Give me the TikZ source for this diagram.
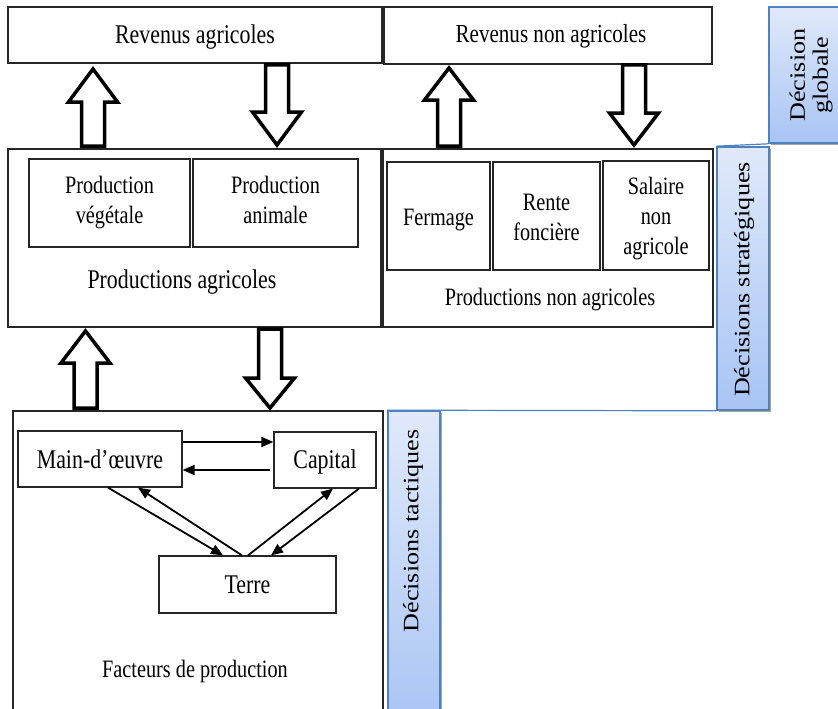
\documentclass[tikz,border=0pt]{standalone}
\usepackage{fontspec}
\setmainfont[FakeStretch=0.81]{Liberation Serif}
\newfontfamily\sidefont[FakeStretch=1.19]{Liberation Serif}
\usetikzlibrary{arrows.meta,shadows,calc}
\definecolor{sideblue}{HTML}{4F81BD}
\definecolor{sidetop}{HTML}{E0E9FA}
\definecolor{sidebot}{HTML}{A8C4F4}

% hollow block arrow: centre x, base y, tip y, y of the head base
\newcommand\blockarrow[4]{%
  \draw[fatarrow] (#1-11.5,#2) -- (#1-11.5,#4) -- (#1-24.5,#4) -- (#1,#3)
    -- (#1+24.5,#4) -- (#1+11.5,#4) -- (#1+11.5,#2) -- cycle;}

\begin{document}
\begin{tikzpicture}[x=1pt,y=-1pt,
  box/.style={draw=black!85, line width=1.2pt, fill=white, inner sep=0pt},
  lbl/.style={inner sep=0pt, align=center, font=\fontsize{25}{30}\selectfont},
  biglbl/.style={inner sep=0pt, align=center, font=\fontsize{27}{30}\selectfont},
  side/.style={draw=sideblue, line width=1.6pt, top color=sidetop, bottom color=sidebot,
    inner sep=0pt,
    drop shadow={shadow xshift=1.5pt, shadow yshift=-2pt, opacity=.35, fill=black}},
  sidelbl/.style={inner sep=0pt, rotate=90, align=center,
    font=\sidefont\fontsize{22}{23}\selectfont},
  fatarrow/.style={draw=black, line width=3.5pt, fill=white, line join=miter},
  link/.style={line width=1.8pt, -{Triangle[length=12pt,width=10pt]}},
  levellink/.style={draw=sideblue, line width=1.2pt}]
\useasboundingbox (0,0) rectangle (838,709);
\clip (0,0) rectangle (838,709);

% decision levels
\node[side, minimum width=81pt, minimum height=136pt] (dg) at (809.5,75) {};
\node[sidelbl] (dgt) at (811,75) {Décision\\globale};
\node[side, minimum width=52pt, minimum height=263pt] (ds) at (743,278.5) {};
\node[sidelbl] (dst) at (744,279.5) {Décisions stratégiques};
\node[side, minimum width=52pt, minimum height=320pt] (dt) at (414,571) {};
\node[sidelbl] (dtt) at (413,531) {Décisions tactiques};
\draw[levellink] (dt.north west) -- (ds.south west);
\draw[levellink] (ds.north west) -- (dg.south west);

% incomes
\node[box, minimum width=374pt, minimum height=56pt] (ra) at (195,35) {};
\node[biglbl, anchor=base] (rat) at (195,44) {Revenus agricoles};
\node[box, minimum width=328pt, minimum height=57pt] (rna) at (548,35.5) {};
\node[lbl, anchor=base, font=\fontsize{26}{30}\selectfont] (rnat) at (551,43) {Revenus non agricoles};

% productions
\node[box, minimum width=373pt, minimum height=178pt] (pa) at (194.5,238) {};
\node[box, minimum width=161pt, minimum height=88pt] (pv) at (109.5,203) {};
\node[lbl] (pvt) at (109.5,202) {\strut Production\\végétale\strut};
\node[box, minimum width=165pt, minimum height=88pt] (pan) at (275.5,203) {};
\node[lbl] (pant) at (275.5,202) {\strut Production\\animale\strut};
\node[biglbl, anchor=base] (pat) at (182,288) {Productions agricoles};

\node[box, minimum width=330pt, minimum height=178pt] (pna) at (548,238) {};
\node[box, minimum width=103pt, minimum height=108pt] (fe) at (438.5,216) {};
\node[lbl, anchor=base] (fet) at (438.5,225) {Fermage};
\node[box, minimum width=107pt, minimum height=108pt] (rf) at (546.5,216) {};
\node[lbl] (rft) at (546.5,219) {\strut Rente\\foncière\strut};
\node[box, minimum width=106pt, minimum height=109pt] (sna) at (656,215.5) {};
\node[lbl] (snat) at (656,218) {\strut Salaire\\non\\agricole\strut};
\node[lbl, anchor=base] (pnat) at (550,305) {Productions non agricoles};

% factors of production
\node[box, minimum width=370pt, minimum height=320pt] (fp) at (198,571) {};
\node[box, minimum width=164pt, minimum height=56pt] (mo) at (100,459) {};
\node[biglbl, anchor=base] (mot) at (100,468) {Main-d’œuvre};
\node[box, minimum width=102pt, minimum height=56pt] (ca) at (325,460) {};
\node[biglbl, anchor=base] (cat) at (325,468) {Capital};
\node[box, minimum width=177pt, minimum height=57pt] (te) at (247.5,584.5) {};
\node[biglbl, anchor=base] (tet) at (247.5,593) {Terre};
\node[lbl, anchor=base] (fpt) at (195,677) {Facteurs de production};

\draw[link] (mo.east |- 0,442) -- (ca.west |- 0,442);
\draw[link] ([xshift=-3pt]ca.west |- 0,470) -- (mo.east |- 0,470);
\draw[link] ([xshift=8pt]mo.south) -- ([xshift=-24.5pt]te.north);
\draw[link] ([xshift=-5.5pt]te.north) -- ([xshift=38pt]mo.south);
\draw[link] ([xshift=0.5pt]te.north) -- ([xshift=8pt]ca.south);
\draw[link] ([xshift=34pt]ca.south) -- ([xshift=23.5pt]te.north);

% flows between levels
\blockarrow{93}{146}{69}{102}
\blockarrow{277}{65}{145}{112}
\blockarrow{449}{146}{68}{100}
\blockarrow{634}{65}{145}{113}
\blockarrow{85.5}{408}{331}{363}
\blockarrow{270}{329}{408}{378}
\end{tikzpicture}
\end{document}
